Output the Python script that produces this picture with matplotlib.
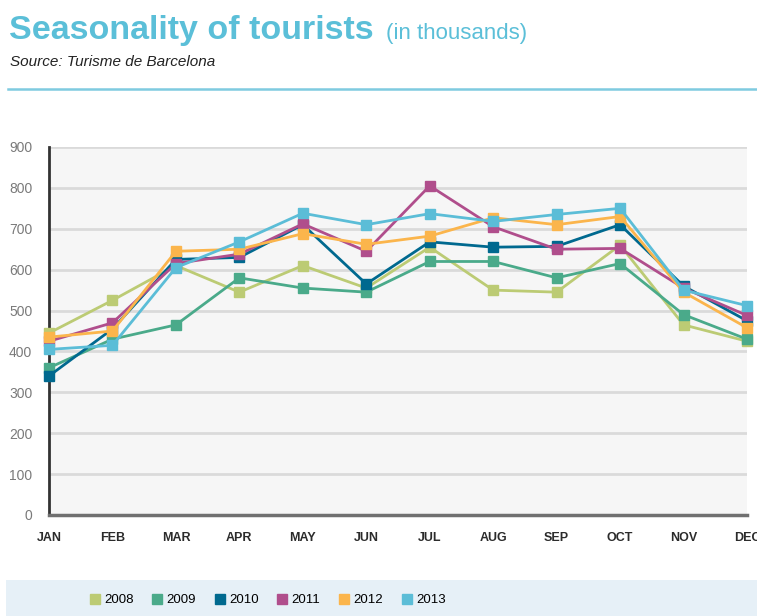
import numpy as np
import matplotlib.pyplot as plt
from matplotlib.lines import Line2D
from matplotlib.patches import Rectangle

# -------------------------------------
# Dados (milhares de turistas)
# -------------------------------------
months = ["JAN", "FEB", "MAR", "APR", "MAY", "JUN",
          "JUL", "AUG", "SEP", "OCT", "NOV", "DEC"]
years = ["2008", "2009", "2010", "2011", "2012", "2013"]

t2008 = [445, 525, 610, 545, 610, 555, 655, 550, 545, 660, 465, 425]
t2009 = [360, 430, 465, 580, 555, 545, 620, 620, 580, 615, 490, 430]
t2010 = [340, 455, 625, 630, 710, 565, 668, 655, 657, 710, 560, 475]
t2011 = [425, 470, 615, 638, 712, 645, 805, 705, 650, 652, 555, 488]
t2012 = [435, 450, 645, 650, 688, 662, 682, 727, 710, 730, 545, 458]
t2013 = [405, 415, 605, 668, 738, 710, 737, 718, 735, 750, 550, 512]

series = [t2008, t2009, t2010, t2011, t2012, t2013]
colors = ["#bccb74", "#4aaa8a", "#00698f", "#b04e8c", "#fbb54c", "#5bbdd7"]

# -------------------------------------
# Figura
# -------------------------------------
plt.rcParams["font.family"] = ["Liberation Sans", "DejaVu Sans"]
fig = plt.figure(figsize=(7.57, 6.16), dpi=100)
W, H = 757, 616

ax = fig.add_axes([49 / W, 1 - 515 / H, (747 - 49) / W, (515 - 147) / H])
ax.set_facecolor("#f6f6f6")

x = np.arange(len(months))
for vals, c in zip(series, colors):
    ax.plot(x, vals, color=c, lw=2.0, marker="s", markersize=7,
            clip_on=False, zorder=3)

ax.set_xlim(0, 11)
ax.set_ylim(0, 900)
ax.set_yticks(range(0, 901, 100))
ax.yaxis.grid(True, color="#dadada", lw=2)
ax.set_axisbelow(True)
ax.set_xticks(x)
ax.set_xticklabels(months, fontsize=9, fontweight="bold", color="#2b2b2b")
ax.tick_params(axis="x", length=0, pad=12)
ax.tick_params(axis="y", length=0, pad=12, labelsize=10, labelcolor="#7a7a7a")

for s in ["top", "right"]:
    ax.spines[s].set_visible(False)
ax.spines["left"].set_color("#333333")
ax.spines["left"].set_linewidth(2)
ax.spines["bottom"].set_color("#707070")
ax.spines["bottom"].set_linewidth(2.5)

# -------------------------------------
# Títulos
# -------------------------------------
fig.text(9 / W, 1 - 30 / H, "Seasonality of tourists", fontsize=24.5,
         fontweight="bold", color="#5bbfd8", va="center", ha="left")
fig.text(386 / W, 1 - 34 / H, "(in thousands)", fontsize=16,
         color="#5bbfd8", va="center", ha="left")
fig.text(10 / W, 1 - 62 / H, "Source: Turisme de Barcelona", fontsize=11,
         style="italic", color="#222222", va="center", ha="left")
fig.add_artist(Line2D([8 / W, 1], [1 - 89 / H, 1 - 89 / H],
                      color="#7fcbe0", lw=1.8, transform=fig.transFigure))

# -------------------------------------
# Legenda
# -------------------------------------
fig.add_artist(Rectangle((6 / W, 0), 1, 36 / H, transform=fig.transFigure,
                         facecolor="#e6f0f7", edgecolor="none", zorder=0))
handles = [Line2D([], [], color=c, marker="s", linestyle="none", markersize=6.5)
           for c in colors]
fig.legend(handles, years, loc="center", bbox_to_anchor=(267 / W, 1 - 600 / H),
           ncol=6, frameon=False, fontsize=9.5, handletextpad=0.2,
           columnspacing=1.3, handlelength=1.0)

fig.savefig("out.png", dpi=100)
